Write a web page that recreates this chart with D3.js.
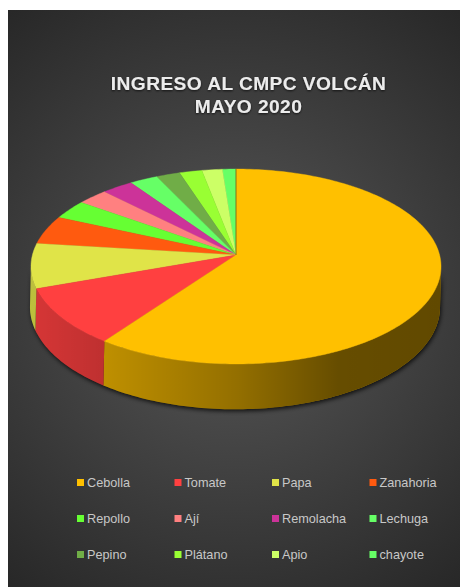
<!DOCTYPE html>
<html>
<head>
<meta charset="utf-8">
<script src="https://cdn.jsdelivr.net/npm/d3@7"></script>
<style>
  html, body { margin: 0; padding: 0; background: #fff; }
  svg { display: block; }
  text { font-family: "Liberation Sans", Arial, sans-serif; }
  .title { font-size: 19.2px; font-weight: bold; fill: #ececec; text-anchor: middle; letter-spacing: .4px; filter: url(#textBlur); }
  .legend text { font-size: 12.7px; fill: #c8c8c8; }
</style>
</head>
<body>
<svg id="chart" width="460" height="587"></svg>
<script>
  const categories = ['Cebolla', 'Tomate', 'Papa', 'Zanahoria', 'Repollo', 'Ají',
    'Remolacha', 'Lechuga', 'Pepino', 'Plátano', 'Apio', 'chayote'];
  const values = [60.0, 9.6, 7.4, 4.8, 3.2, 2.7, 2.8, 2.5, 2.1, 2.0, 1.8, 1.2];
  const colors = ['#ffc000', '#ff4040', '#e0e448', '#ff5a0f', '#66ff33', '#ff8080',
    '#cc3399', '#66ff66', '#70ad47', '#99ff33', '#ccff66', '#66ff66'];
  const titleLines = ['INGRESO AL CMPC VOLCÁN', 'MAYO 2020'];

  const svg = d3.select('#chart');
  const defs = svg.append('defs');

  const bg = defs.append('radialGradient').attr('id', 'bg')
    .attr('gradientUnits', 'userSpaceOnUse')
    .attr('cx', 234).attr('cy', 298).attr('r', 370);
  bg.append('stop').attr('offset', 0).attr('stop-color', '#585858');
  bg.append('stop').attr('offset', 1).attr('stop-color', '#272727');

  // side wall gets darker from left to right
  const shade = defs.append('linearGradient').attr('id', 'shade')
    .attr('gradientUnits', 'userSpaceOnUse')
    .attr('x1', 31).attr('x2', 441).attr('y1', 0).attr('y2', 0);
  shade.append('stop').attr('offset', 0).attr('stop-color', '#000').attr('stop-opacity', .16);
  shade.append('stop').attr('offset', .5).attr('stop-color', '#000').attr('stop-opacity', .42);
  shade.append('stop').attr('offset', .75).attr('stop-color', '#000').attr('stop-opacity', .6);
  shade.append('stop').attr('offset', 1).attr('stop-color', '#000').attr('stop-opacity', .62);

  defs.append('filter').attr('id', 'shadow')
    .attr('x', '-10%').attr('y', '-10%').attr('width', '120%').attr('height', '120%')
    .append('feGaussianBlur').attr('stdDeviation', 2.2);
  defs.append('filter').attr('id', 'textBlur')
    .append('feDropShadow').attr('dx', 0).attr('dy', 1).attr('stdDeviation', 1)
    .attr('flood-color', '#000').attr('flood-opacity', .7);

  svg.append('rect').attr('x', 8).attr('y', 10).attr('width', 452).attr('height', 577)
    .attr('fill', 'url(#bg)');

  svg.selectAll('text.title')
    .data(titleLines)
    .enter().append('text')
    .attr('class', 'title')
    .attr('x', 248.5)
    .attr('y', (d, i) => 90 + i * 22.5)
    .text((d) => d);

  // the disc is a circle seen in perspective, so the apex sits above the ellipse centre
  const persp = 0.118;
  const x = d3.scaleLinear().domain([-1, 1]).range([236 - 203.6, 236 + 203.6]);
  const y = d3.scaleLinear().domain([-1, 1]).range([255 + 96.1, 255 - 96.1]);
  const depth = 40;

  function rim(a) {
    const w = 1 + persp * Math.cos(a);
    return [x(Math.sin(a) / w), y(Math.cos(a) / w)];
  }

  function floor(a) {
    const w = 1 + persp * Math.cos(a);
    const p = rim(a);
    return [p[0] - 1, p[1] + depth / w];
  }

  function arcPoints(fn, a0, a1) {
    const n = Math.max(2, Math.ceil((a1 - a0) / 0.02));
    return d3.range(n + 1).map((i) => fn(a0 + (a1 - a0) * i / n));
  }

  const color = d3.scaleOrdinal(categories, colors);
  const arcs = d3.pie().sort(null)(values);
  const line = d3.line();

  // silhouette of the disc: the wall is only visible between the two side tangents
  const sideFrom = Math.acos(-persp);
  const sideTo = 2 * Math.PI - sideFrom;

  const pie = svg.append('g');

  const outline = arcPoints(rim, sideFrom, sideTo)
    .concat(arcPoints(floor, sideFrom, sideTo).reverse());
  pie.append('path')
    .attr('d', line(outline) + 'Z')
    .attr('transform', 'translate(1,2)')
    .attr('fill', '#000')
    .attr('opacity', .75)
    .attr('filter', 'url(#shadow)');

  const walls = arcs
    .map((d, i) => ({
      name: categories[i],
      from: Math.max(d.startAngle, sideFrom),
      to: Math.min(d.endAngle, sideTo),
    }))
    .filter((d) => d.to > d.from);

  const wall = pie.selectAll('g.wall')
    .data(walls)
    .enter().append('g')
    .attr('class', 'wall');

  const wallPath = (d) => line(arcPoints(rim, d.from, d.to)
    .concat(arcPoints(floor, d.from, d.to).reverse())) + 'Z';

  wall.append('path')
    .attr('d', wallPath)
    .attr('fill', (d) => color(d.name));
  wall.append('path')
    .attr('d', wallPath)
    .attr('fill', 'url(#shade)');

  const apex = [x(0), y(0)];

  pie.selectAll('path.slice')
    .data(arcs.slice().reverse())
    .enter().append('path')
    .attr('class', 'slice')
    .attr('d', (d) => line([apex].concat(arcPoints(rim, d.startAngle, d.endAngle))) + 'Z')
    .attr('fill', (d) => color(categories[d.index]))
    .attr('stroke', (d) => color(categories[d.index]))
    .attr('stroke-width', .4);

  // dark seam along the left edge of the big slice
  const seam = [apex, rim(0)];
  pie.append('path')
    .attr('d', line(seam))
    .attr('stroke', '#3a3a1a')
    .attr('stroke-opacity', .6)
    .attr('stroke-width', 1)
    .attr('fill', 'none');

  const legendX = d3.scaleBand().domain(d3.range(4)).range([77, 467]);
  const legendY = d3.scalePoint().domain(d3.range(3)).range([482.5, 554.5]);

  const legend = svg.append('g').attr('class', 'legend')
    .selectAll('g')
    .data(categories)
    .enter().append('g')
    .attr('transform', (d, i) =>
      'translate(' + legendX(i % 4) + ',' + legendY(Math.floor(i / 4)) + ')');

  legend.append('rect')
    .attr('x', 0).attr('y', -3.5).attr('width', 7).attr('height', 7)
    .attr('fill', (d) => color(d));

  legend.append('text')
    .attr('x', 10)
    .attr('y', 4.5)
    .text((d) => d);
</script>
</body>
</html>
